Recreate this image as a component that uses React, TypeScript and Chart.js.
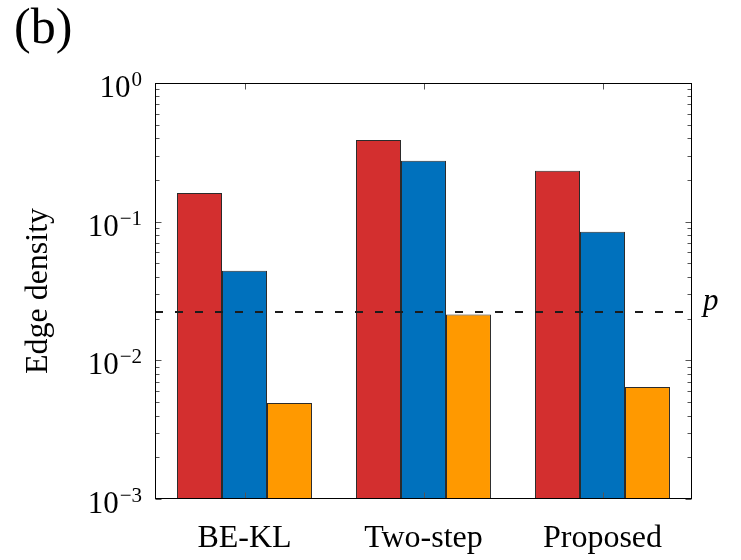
import React, { useEffect, useRef } from "react";
import { Chart, registerables } from "chart.js";

Chart.register(...registerables);

// Edge density per method (log scale)
const categories = ["BE-KL", "Two-step", "Proposed"];
const redSeries = [0.161, 0.388, 0.233];
const blueSeries = [0.0443, 0.275, 0.0847];
const orangeSeries = [0.00493, 0.0214, 0.00643];
const pThreshold = 0.0223;
const decadeValues = [1, 0.1, 0.01, 0.001];
const decadeExponents = ["0", "\u22121", "\u22122", "\u22123"];

const SERIF = '"Liberation Serif", "Times New Roman", serif';

const decorations = {
  id: "decorations",
  afterDatasetsDraw(chart: any) {
    const { ctx, chartArea: a, scales } = chart;
    const x = scales.x;
    const y = scales.y;
    const L = Math.round(a.left) + 0.5;
    const R = Math.round(a.right) - 0.5;
    const T = Math.round(a.top) + 0.5;
    const B = Math.round(a.bottom) - 0.5;
    ctx.save();

    // threshold line p
    const py = Math.round(y.getPixelForValue(pThreshold));
    ctx.setLineDash([8, 12]);
    ctx.lineWidth = 1.8;
    ctx.strokeStyle = "#1c1c1c";
    ctx.beginPath();
    ctx.moveTo(a.left, py);
    ctx.lineTo(a.right, py);
    ctx.stroke();
    ctx.setLineDash([]);

    // ticks
    ctx.lineWidth = 1;
    ctx.strokeStyle = "#555";
    ctx.beginPath();
    for (let d = -3; d <= -1; d++) {
      for (let m = 1; m <= 9; m++) {
        const v = m * Math.pow(10, d);
        const ty = Math.round(y.getPixelForValue(v)) + 0.5;
        const len = m === 1 ? 6 : 4;
        ctx.moveTo(L, ty);
        ctx.lineTo(L + len, ty);
        ctx.moveTo(R, ty);
        ctx.lineTo(R - len, ty);
      }
    }
    categories.forEach((_, i) => {
      const tx = Math.round(x.getPixelForValue(i)) + 0.5;
      ctx.moveTo(tx, T);
      ctx.lineTo(tx, T + 6);
      ctx.moveTo(tx, B);
      ctx.lineTo(tx, B - 6);
    });
    ctx.stroke();

    // axes box
    ctx.strokeStyle = "#000";
    ctx.lineWidth = 1;
    ctx.strokeRect(L, T, R - L, B - T);

    // y tick labels 10^k
    ctx.fillStyle = "#000";
    ctx.textAlign = "right";
    ctx.textBaseline = "alphabetic";
    const labelRight = a.left - 13;
    decadeValues.forEach((v, i) => {
      const ty = y.getPixelForValue(v);
      ctx.font = `21px ${SERIF}`;
      const exp = decadeExponents[i];
      const ew = ctx.measureText(exp).width;
      ctx.fillText(exp, labelRight, ty + 3);
      ctx.font = `31px ${SERIF}`;
      ctx.fillText("10", labelRight - ew - 1, ty + 14);
    });

    // category labels
    ctx.textAlign = "center";
    ctx.font = `32px ${SERIF}`;
    categories.forEach((c, i) => {
      ctx.fillText(c, x.getPixelForValue(i), a.bottom + 48);
    });

    // p label
    ctx.textAlign = "left";
    ctx.font = `italic 31px ${SERIF}`;
    ctx.fillText("p", a.right + 11, py - 2);

    // y axis title
    ctx.save();
    ctx.translate(47, (a.top + a.bottom) / 2);
    ctx.rotate(-Math.PI / 2);
    ctx.textAlign = "center";
    ctx.font = `32px ${SERIF}`;
    ctx.fillText("Edge density", 0, 0);
    ctx.restore();

    // panel label
    ctx.textAlign = "left";
    ctx.font = `50px ${SERIF}`;
    ctx.fillText("(b)", 14, 43);

    ctx.restore();
  },
};

export default function App() {
  const canvasRef = useRef<HTMLCanvasElement | null>(null);

  useEffect(() => {
    document.body.style.margin = "0";
    const canvas = canvasRef.current;
    if (!canvas) return;
    const edge = "#2b2b2b";
    const chart = new Chart(canvas, {
      type: "bar",
      data: {
        labels: categories,
        datasets: [
          { data: redSeries, backgroundColor: "#D32F2F", borderColor: edge, borderWidth: 1 },
          { data: blueSeries, backgroundColor: "#0071BD", borderColor: edge, borderWidth: 1 },
          { data: orangeSeries, backgroundColor: "#FF9900", borderColor: edge, borderWidth: 1 },
        ],
      },
      options: {
        animation: false,
        responsive: false,
        maintainAspectRatio: false,
        devicePixelRatio: 1,
        layout: { padding: { left: 155, right: 49, top: 83, bottom: 61 } },
        plugins: {
          legend: { display: false },
          tooltip: { enabled: false },
          title: { display: false },
        },
        datasets: {
          bar: { categoryPercentage: 0.754, barPercentage: 1 },
        },
        scales: {
          x: { type: "category", display: false, offset: true },
          y: { type: "logarithmic", display: false, min: 0.001, max: 1 },
        },
      },
      plugins: [decorations],
    });
    return () => chart.destroy();
  }, []);

  return (
    <div style={{ width: 741, height: 560, background: "#fff" }}>
      <canvas ref={canvasRef} width={741} height={560} style={{ display: "block" }} />
    </div>
  );
}
